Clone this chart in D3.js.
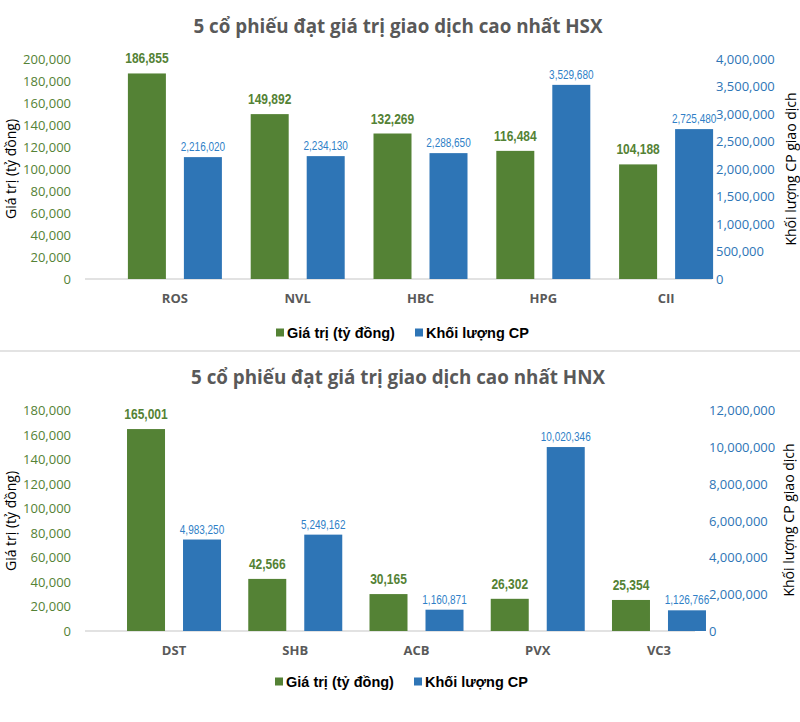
<!DOCTYPE html>
<html>
<head>
<meta charset="utf-8">
<script src="https://cdn.jsdelivr.net/npm/d3@7"></script>
<style>
  html, body { margin: 0; padding: 0; background: #fff; }
  svg { display: block; }
</style>
</head>
<body>
<svg id="chart" width="800" height="722"></svg>
<script>
// ---------- DATA ----------
const hsxTitle = "5 cổ phiếu đạt giá trị giao dịch cao nhất HSX";
const hsxCategories = ["ROS", "NVL", "HBC", "HPG", "CII"];
const hsxValue = [186855, 149892, 132269, 116484, 104188];
const hsxVolume = [2216020, 2234130, 2288650, 3529680, 2725480];
const hsxLeftTicks = [0, 20000, 40000, 60000, 80000, 100000, 120000, 140000, 160000, 180000, 200000];
const hsxRightTicks = [0, 500000, 1000000, 1500000, 2000000, 2500000, 3000000, 3500000, 4000000];

const hnxTitle = "5 cổ phiếu đạt giá trị giao dịch cao nhất HNX";
const hnxCategories = ["DST", "SHB", "ACB", "PVX", "VC3"];
const hnxValue = [165001, 42566, 30165, 26302, 25354];
const hnxVolume = [4983250, 5249162, 1160871, 10020346, 1126766];
const hnxLeftTicks = [0, 20000, 40000, 60000, 80000, 100000, 120000, 140000, 160000, 180000];
const hnxRightTicks = [0, 2000000, 4000000, 6000000, 8000000, 10000000, 12000000];

const seriesNames = ["Giá trị (tỷ đồng)", "Khối lượng CP"];
const leftTitle = "Giá trị (tỷ đồng)";
const rightTitle = "Khối lượng CP giao dịch";

// ---------- STYLE ----------
const GREEN = "#548235";
const BLUE = "#2e75b6";
const BLUE_LABEL = "#2f7fc7";
const GREY = "#595959";
const NARROW = "'Liberation Sans', Arial, sans-serif";
const NARROW_SX = 0.8;
const AXISFONT = "'Open Sans', 'Noto Sans', sans-serif";

const svg = d3.select("#chart");
const fmt = d3.format(",");

function drawChart(cfg) {
  const g = svg.append("g");
  const yL = d3.scaleLinear().domain(cfg.leftDomain).range([cfg.y0, cfg.y1]);
  const yR = d3.scaleLinear().domain(cfg.rightDomain).range([cfg.y0, cfg.y1]);
  const x = d3.scaleBand().domain(cfg.categories).range(cfg.xRange).padding(0);
  const groupW = 94;
  const inner = d3.scaleBand().domain(["value", "volume"])
    .range([(x.bandwidth() - groupW) / 2, (x.bandwidth() + groupW) / 2])
    .paddingInner(18 / 56);

  // title
  g.append("text")
    .attr("x", cfg.titleX).attr("y", cfg.titleY)
    .attr("text-anchor", "middle")
    .attr("font-family", AXISFONT).attr("font-weight", 700)
    .attr("font-size", 18.8).attr("fill", GREY)
    .text(cfg.title);

  // baseline
  g.append("line")
    .attr("x1", cfg.baseX[0]).attr("x2", cfg.baseX[1])
    .attr("y1", yL(0)).attr("y2", yL(0))
    .attr("stroke", "#d9d9d9").attr("stroke-width", 1.3);

  // left axis
  const la = g.append("g").attr("transform", `translate(${cfg.leftAxisX},0)`)
    .call(d3.axisLeft(yL).tickValues(cfg.leftTicks).tickFormat(fmt).tickSize(0).tickPadding(0));
  la.select(".domain").remove();
  la.selectAll("text").attr("font-family", AXISFONT).attr("font-size", 13).attr("fill", GREEN);

  // right axis
  const ra = g.append("g").attr("transform", `translate(${cfg.rightAxisX},0)`)
    .call(d3.axisRight(yR).tickValues(cfg.rightTicks).tickFormat(fmt).tickSize(0).tickPadding(0));
  ra.select(".domain").remove();
  ra.selectAll("text").attr("font-family", AXISFONT).attr("font-size", 13).attr("fill", BLUE);

  // axis titles
  g.append("text")
    .attr("transform", `translate(${cfg.leftTitleX},${cfg.leftTitleY}) rotate(-90)`)
    .attr("text-anchor", "middle").attr("dominant-baseline", "central")
    .attr("font-family", AXISFONT).attr("font-size", 14).attr("fill", "#000")
    .text(leftTitle);
  g.append("text")
    .attr("transform", `translate(${cfg.rightTitleX},${cfg.rightTitleY}) rotate(-90)`)
    .attr("text-anchor", "middle").attr("dominant-baseline", "central")
    .attr("font-family", AXISFONT).attr("font-size", 14).attr("fill", "#000")
    .text(rightTitle);

  const rows = cfg.categories.map((c, i) => ({ c, v: cfg.value[i], q: cfg.volume[i] }));

  // bars
  const grp = g.selectAll(".grp").data(rows).join("g")
    .attr("transform", d => `translate(${x(d.c)},0)`);
  grp.append("rect")
    .attr("x", inner("value")).attr("width", inner.bandwidth())
    .attr("y", d => yL(d.v)).attr("height", d => yL(0) - yL(d.v))
    .attr("fill", GREEN);
  grp.append("rect")
    .attr("x", inner("volume")).attr("width", inner.bandwidth())
    .attr("y", d => yR(d.q)).attr("height", d => yR(0) - yR(d.q))
    .attr("fill", BLUE);

  // value labels (condensed)
  grp.append("text")
    .attr("transform", d => `translate(${inner("value") + inner.bandwidth() / 2},${yL(d.v) - 10}) scale(${NARROW_SX},1)`)
    .attr("text-anchor", "middle")
    .attr("font-family", NARROW).attr("font-weight", 700).attr("font-size", 15)
    .attr("fill", GREEN)
    .text(d => fmt(d.v));
  grp.append("text")
    .attr("transform", d => `translate(${inner("volume") + inner.bandwidth() / 2},${yR(d.q) - 6}) scale(${NARROW_SX},1)`)
    .attr("text-anchor", "middle")
    .attr("font-family", NARROW).attr("font-size", 12.5)
    .attr("fill", BLUE_LABEL)
    .text(d => fmt(d.q));

  // category labels
  grp.append("text")
    .attr("x", x.bandwidth() / 2)
    .attr("y", yL(0) + 24)
    .attr("text-anchor", "middle")
    .attr("font-family", AXISFONT).attr("font-weight", 700).attr("font-size", 13)
    .attr("fill", GREY)
    .text(d => d.c);

  // legend
  const leg = g.append("g");
  const colors = [GREEN, BLUE];
  const legX = cfg.legendX;
  seriesNames.forEach((name, i) => {
    leg.append("rect")
      .attr("x", legX[i]).attr("y", cfg.legendY - 4.5)
      .attr("width", 8).attr("height", 8)
      .attr("fill", colors[i]);
    leg.append("text")
      .attr("x", legX[i] + 11).attr("y", cfg.legendY)
      .attr("dominant-baseline", "central")
      .attr("font-family", "'Liberation Sans', Arial, sans-serif")
      .attr("font-weight", 700).attr("font-size", 14.5).attr("fill", "#000")
      .text(name);
  });
}

drawChart({
  title: hsxTitle, titleX: 398, titleY: 33,
  categories: hsxCategories, value: hsxValue, volume: hsxVolume,
  leftDomain: [0, 200000], rightDomain: [0, 4000000],
  leftTicks: hsxLeftTicks, rightTicks: hsxRightTicks,
  y0: 279, y1: 59,
  xRange: [113.5, 727.5], baseX: [85, 712],
  leftAxisX: 71, rightAxisX: 716,
  leftTitleX: 10, leftTitleY: 169,
  rightTitleX: 790, rightTitleY: 169,
  legendX: [276, 415], legendY: 333
});

// separator
svg.append("line").attr("x1", 0).attr("x2", 800).attr("y1", 351).attr("y2", 351)
  .attr("stroke", "#e3e3e3").attr("stroke-width", 2);

drawChart({
  title: hnxTitle, titleX: 398, titleY: 384,
  categories: hnxCategories, value: hnxValue, volume: hnxVolume,
  leftDomain: [0, 180000], rightDomain: [0, 12000000],
  leftTicks: hnxLeftTicks, rightTicks: hnxRightTicks,
  y0: 631, y1: 410.7,
  xRange: [113.4, 719.6], baseX: [85, 695],
  leftAxisX: 71, rightAxisX: 709,
  leftTitleX: 10, leftTitleY: 521,
  rightTitleX: 788, rightTitleY: 520,
  legendX: [275, 414], legendY: 682
});
</script>
</body>
</html>
